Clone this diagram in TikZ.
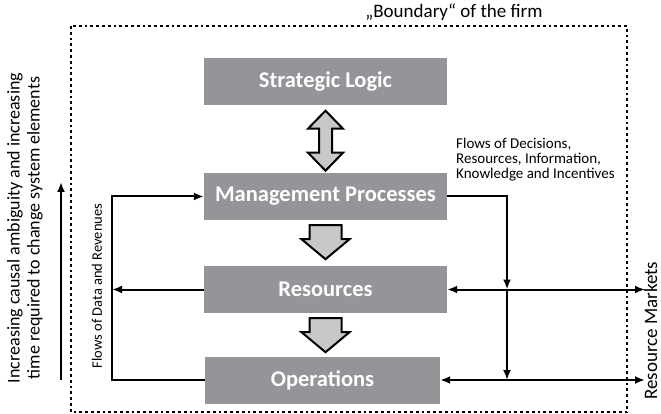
\documentclass[tikz,border=0pt]{standalone}
\usepackage{fontspec}
\setmainfont{Carlito}
\usetikzlibrary{arrows.meta}

\definecolor{boxgray}{RGB}{147,149,152}
\definecolor{arrowgray}{RGB}{200,200,200}

\tikzset{
  box/.style={fill=boxgray, text=white, font=\fontsize{22.5}{26}\selectfont\bfseries,
    minimum width=243pt, minimum height=47pt, inner sep=0pt},
  flow/.style={line width=2pt, -{Latex[length=10pt,width=8pt]}},
  twoway/.style={line width=2pt, {Latex[length=10pt,width=8pt]}-{Latex[length=10pt,width=8pt]}},
  blockarrow/.style={draw=black, line width=2pt, fill=arrowgray, line join=miter},
  note/.style={font=\fontsize{15}{15}\selectfont, align=left, inner sep=0pt},
}

\begin{document}
\begin{tikzpicture}[x=1pt, y=-1pt]
    \useasboundingbox (0,0) rectangle (661,414);

    % Grenze der Firma
    \draw[line width=2.8pt, dash pattern=on 2.8pt off 3pt] (71,26) rectangle (627,412);
    \node[font=\fontsize{19}{22}\selectfont, anchor=base] (bound) at (454,18) {„Boundary“ of the firm};

    % Systemebenen
    \node[box] (strat) at (325.5,82) {Strategic Logic};
    \node[box] (mgmt) at (325.5,196.5) {Management Processes};
    \node[box] (res) at (325.5,289.5) {Resources};
    \node[box, minimum width=235pt] (ops) at (322.5,380) {Operations};

    % Blockpfeile
    \draw[blockarrow, shift={(strat.south)}] (0,5) -- (17.5,23) -- (6.5,23) -- (6.5,47)
        -- (17.5,47) -- (0,65) -- (-17.5,47) -- (-6.5,47) -- (-6.5,23) -- (-17.5,23) -- cycle;
    \foreach \src in {mgmt,res}
        \draw[blockarrow, shift={(\src.south)}] (-16,5) -- (16,5) -- (16,19) -- (24,19)
            -- (0,39) -- (-24,19) -- (-16,19) -- cycle;

    % Rueckkopplung links
    \coordinate (fbl) at (112,0);
    \draw[flow] (ops.west) -- (ops.west -| fbl) |- (mgmt.west);
    \draw[flow] (res.west) -- (res.west -| fbl);
    \node[note, font=\fontsize{14.5}{15}\selectfont, rotate=90] (dataflow) at (97,286) {Flows of Data and Revenues};

    % Fluesse rechts
    \coordinate (fbr) at (507,0);
    \coordinate (mkt) at (645,0);
    \draw[flow] (mgmt.east) -| (fbr |- res.east);
    \draw[flow] (fbr |- res.east) -- (fbr |- ops.east);
    \draw[twoway] (res.east) -- (res.east -| mkt);
    \draw[twoway] (ops.east) -- (ops.east -| mkt);
    \node[note, anchor=north west] (decflow) at (456,138)
        {Flows of Decisions,\\Resources, Information,\\Knowledge and Incentives};
    \node[font=\fontsize{19}{22}\selectfont, rotate=90, anchor=base west, inner sep=0pt] (markets) at (657,400) {Resource Markets};

    % Zeitachse
    \node[font=\fontsize{18}{20}\selectfont, rotate=90, align=center, inner sep=0pt] (ambig) at (25,228)
        {Increasing causal ambiguity and increasing\\time required to change system elements};
    \coordinate (ambS) at (61,380);
    \coordinate (ambN) at (61,182);
    \draw[flow] (ambS) -- (ambN);
\end{tikzpicture}
\end{document}
